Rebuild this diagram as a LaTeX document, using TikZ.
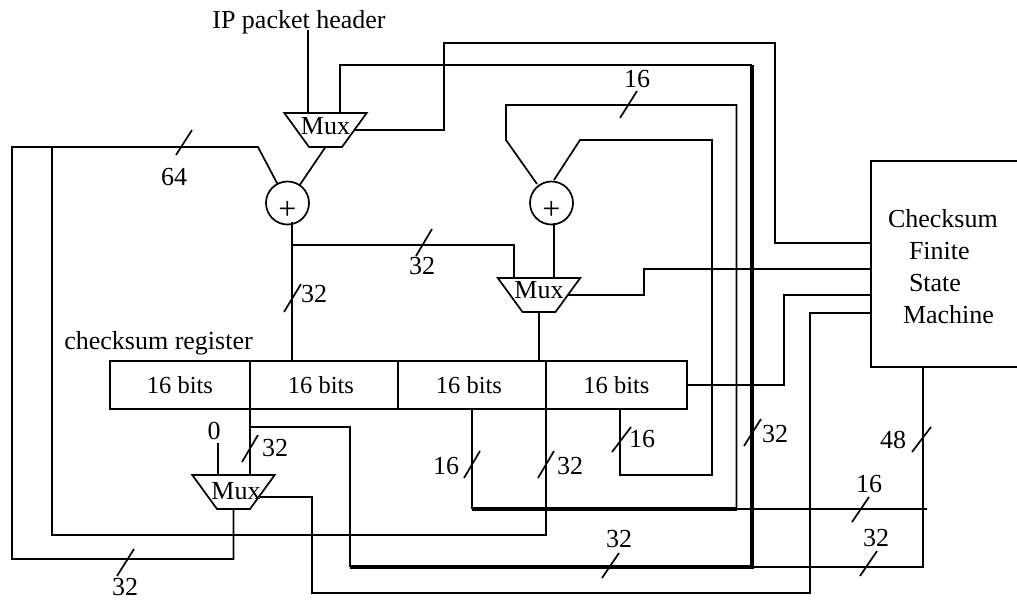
\documentclass[tikz,border=0pt]{standalone}
\usepackage{fontspec}
\setmainfont{Liberation Serif}
\usepackage{tikz}
\usetikzlibrary{arrows.meta,shapes,positioning,calc}
\tikzset{
    wire/.style={line width=1.7},
    buswire/.style={line width=3.8},
    tick/.style={line width=1.7},
    lbl/.style={inner sep=0, font=\fontsize{26}{30}\selectfont},
    muxbox/.style={draw, line width=1.7, shape=trapezium, shape border rotate=180,
        trapezium left angle=54, trapezium right angle=54,
        inner sep=0, outer sep=0, font=\fontsize{26}{30}\selectfont},
    adder/.style={draw, circle, line width=1.7, minimum size=43, inner sep=0, outer sep=0,
        font=\fontsize{32}{36}\selectfont},
    regcell/.style={draw, line width=1.3, minimum height=48, inner sep=0, outer sep=0,
        font=\fontsize{24.5}{30}\selectfont},
}

\begin{document}
\begin{tikzpicture}[x=1pt,y=-1pt]
    \useasboundingbox (0,0) rectangle (1017,601);

    % Checksum register
    \node[regcell, minimum width=140] (rega) at (180,385) {16 bits};
    \node[regcell, minimum width=148] (regb) at (324,385) {16 bits\kern6pt\relax};
    \node[regcell, minimum width=148] (regc) at (472,385) {16 bits\kern6pt\relax};
    \node[regcell, minimum width=141] (regd) at (616.5,385) {16 bits};
    \node[lbl, anchor=base] (reglbl) at (158.5,350) {checksum register};

    % Muxes and adders
    \node[muxbox, text height=22, text depth=12] (muxa) at (325.5,130) {\makebox[33pt]{Mux}};
    \node[muxbox, text height=21, text depth=13] (muxb) at (539,295) {\makebox[33pt]{Mux}};
    \node[muxbox, text height=24, text depth=10] (muxc) at (233.5,492) {\makebox[33pt]{\hspace{5pt}Mux}};
    \node[adder] (adda) at (287.5,203) {\raisebox{-17pt}[0pt][0pt]{+}};
    \node[adder] (addb) at (551.5,203) {\raisebox{-17pt}[0pt][0pt]{+}};

    % State machine, its right side is off the page
    \node[lbl, minimum width=146, minimum height=206, text width=112, align=left,
        font=\fontsize{26}{32}\selectfont] (fsm) at (944,264)
        {\rule{0pt}{24pt}Checksum\\\hspace*{21pt}Finite\\\hspace*{21pt}State\\\hspace*{15pt}Machine};
    \draw[wire] (fsm.north east) -- (fsm.north west) -- (fsm.south west) -- (fsm.south east);

    % Pins
    \coordinate (fsmpa) at (fsm.west |- 0,243);
    \coordinate (fsmpb) at (fsm.west |- 0,269);
    \coordinate (fsmpc) at (fsm.west |- 0,295);
    \coordinate (fsmpd) at (fsm.west |- 0,313);
    \coordinate (fsmout) at (923,367);
    \coordinate (muxaa) at (308,113);
    \coordinate (muxab) at (340,113);
    \coordinate (muxba) at (514,279);
    \coordinate (muxbb) at (554,279);
    \coordinate (muxca) at (218,475);
    \coordinate (muxcb) at (250,475);
    \coordinate (muxcout) at (260,497);
    \coordinate (addaout) at (292,222);
    \coordinate (addbout) at (554,223);
    \coordinate (addbina) at (537,184);
    \coordinate (addbinb) at (554,180);
    \coordinate (regbin) at (292,361);
    \coordinate (regdout) at (620,409);

    % Header and zero inputs
    \node[lbl, anchor=base] (hdr) at (299,29) {IP packet header};
    \coordinate (hdrout) at (308,30);
    \draw[wire] (hdrout) -- (muxaa);
    \node[lbl] (zero) at (214,431) {0};
    \coordinate (zeroout) at (218,443);
    \draw[wire] (zeroout) -- (muxca);

    % Adder one
    \draw[wire] (muxa.south) -- (adda);
    \draw[wire] (muxc.south) |- (12,559) |- (258,147) -- (adda);
    \draw[wire] (52,147) |- (546,535) -- (regc.south east);
    \draw[wire] (addaout) -- (regbin);
    \draw[wire] (292,245) -| (muxba);

    % Adder two
    \draw[wire] (addbout) -- (muxbb);
    \draw[wire] (addbina) -- (506,140) |- (736.5,105) -- (736.5,509) -- (927,509);
    \draw[wire] (addbinb) -- (580,140) -| (712,475) -| (regdout);
    \draw[wire] (muxb.south) -- (muxb.south |- regc.north);

    % Lines to the state machine
    \draw[wire] (muxa.east) -| (444,43) -| (775,243) -- (fsmpa);
    \draw[wire] (muxb.east) -| (644,269) -- (fsmpb);
    \draw[wire] (regd.east) -| (784,295) -- (fsmpc);
    \draw[wire] (muxcout) -| (312,593) -| (810,313) -- (fsmpd);
    \draw[wire] (fsmout) |- (752,567);
    \draw[wire] (rega.south east) -- (muxcb);
    \draw[wire] (250,427) -| (350,567);
    \draw[wire] (regc.south) -- (472,509);
    \draw[wire] (muxab) |- (752,65);

    % Wide lines
    \draw[buswire] (472,509) -- (736.5,509);
    \draw[buswire] (350,567) -| (752,65);

    % Width ticks
    \draw[tick] (176,155) -- (192,130);
    \draw[tick] (416,256) -- (432,229);
    \draw[tick] (284,312) -- (301,284);
    \draw[tick] (620,118) -- (637,91);
    \draw[tick] (242,462) -- (258,435);
    \draw[tick] (464,478) -- (480,451);
    \draw[tick] (538,478) -- (554,451);
    \draw[tick] (612,452) -- (631,427);
    \draw[tick] (744,446) -- (761,419);
    \draw[tick] (912,452) -- (931,427);
    \draw[tick] (852,522) -- (869,497);
    \draw[tick] (860,576) -- (877,551);
    \draw[tick] (602,578) -- (619,553);
    \draw[tick] (117,576) -- (134,549);

    % Width labels
    \node[lbl] (wa) at (174,177) {64};
    \node[lbl] (wb) at (422,266) {32};
    \node[lbl] (wc) at (314,294) {32};
    \node[lbl] (wd) at (637,79) {16};
    \node[lbl] (we) at (275,448) {32};
    \node[lbl] (wf) at (446,466) {16};
    \node[lbl] (wg) at (570,466) {32};
    \node[lbl] (wh) at (642,439) {16};
    \node[lbl] (wi) at (775,434) {32};
    \node[lbl] (wj) at (893,440) {48};
    \node[lbl] (wk) at (869,484) {16};
    \node[lbl] (wl) at (876,538) {32};
    \node[lbl] (wm) at (619,539) {32};
    \node[lbl] (wn) at (125,587) {32};
\end{tikzpicture}
\end{document}
